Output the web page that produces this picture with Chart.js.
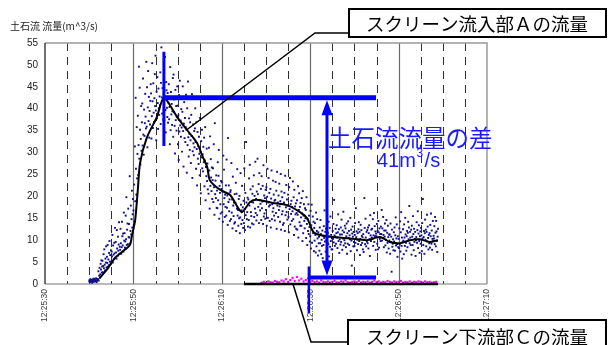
<!DOCTYPE html>
<html>
<head>
<meta charset="utf-8">
<script src="https://cdn.jsdelivr.net/npm/chart.js@4/dist/chart.umd.min.js"></script>
<style>
html, body { margin: 0; padding: 0; background: #fff; }
canvas { display: block; }
</style>
</head>
<body>
<canvas id="c" width="608" height="345"></canvas>
<script>
// Time axis: seconds after 12:25:30
const xTickLabels = ['12:25:30', '12:25:50', '12:26:10', '12:26:30', '12:26:50', '12:27:10'];

// Screen inlet A: measured flow, 12 samples per second from t = 10 s
const aStart = 10.0;
const aStep = 1 / 12;
const aFlow = [
  0.6,0.9,0.4,1.1,0.7,0.5,0.9,0.8,0.3,1.0,0.6,1.2,
  0.5,1.0,0.7,1.2,0.6,0.9,0.8,1.3,0.4,0.7,1.1,0.9,
  1.1,2.9,0.8,1.9,3.7,1.4,2.2,4.6,3.3,5.4,2.6,4.0,
  5.3,2.7,4.1,6.8,3.6,7.9,4.4,3.1,5.8,4.9,8.6,3.8,
  6.2,4.8,8.9,3.9,5.6,4.3,7.1,9.8,5.1,6.6,4.5,7.7,
  5.1,7.4,6.3,11.2,4.9,8.8,6.7,5.7,9.4,7.0,12.8,6.0,
  9.6,7.2,5.8,12.3,8.1,6.4,10.8,7.6,9.0,14.1,6.9,8.5,
  7.8,12.6,9.3,6.9,8.4,14.2,10.9,8.8,11.5,7.4,16.3,9.9,
  11.6,8.3,9.7,15.6,10.2,19.8,8.9,12.4,13.8,9.1,17.2,10.7,
  13.7,10.6,24.6,9.2,12.1,17.9,11.3,14.8,21.3,12.9,15.9,19.4,
  16.8,13.5,22.7,14.2,31.4,18.9,42.5,26.3,20.4,35.8,24.1,29.7,
  38.4,24.9,31.7,49.6,28.6,44.8,35.2,27.3,33.1,40.6,30.4,36.9,
  41.2,31.6,46.9,34.1,29.5,39.8,33.8,36.7,43.4,38.2,35.5,50.7,
  35.9,44.9,31.2,40.3,48.6,37.2,42.7,33.4,39.5,36.4,41.8,45.6,
  43.5,33.2,38.3,50.4,41.7,35.6,45.8,39.1,37.0,42.4,47.9,40.6,
  52.1,39.6,32.8,43.9,37.8,47.2,41.3,35.4,44.6,40.1,38.6,42.8,
  40.8,48.3,36.5,45.9,54.0,42.6,38.9,44.7,41.9,37.5,43.3,50.9,
  37.3,42.9,51.8,39.7,34.6,46.1,44.2,40.2,38.1,43.6,36.8,41.4,
  45.6,37.6,40.4,31.9,49.5,35.1,43.8,38.7,41.1,36.3,39.4,47.0,
  33.6,47.8,39.2,42.1,36.1,29.8,44.3,37.4,40.6,35.0,38.2,45.1,
  40.7,31.9,38.5,28.3,43.1,34.8,46.4,36.2,37.3,33.6,39.9,35.7,
  30.2,39.3,45.1,34.9,26.8,36.6,41.5,33.3,37.9,32.4,35.8,43.2,
  35.2,25.4,40.1,31.7,46.2,33.5,29.1,37.8,34.3,30.6,36.9,32.8,
  27.6,38.6,33.8,43.3,24.2,30.3,36.4,32.1,29.4,34.9,31.2,35.5,
  40.1,32.4,26.3,36.9,30.8,22.5,34.7,28.6,31.5,27.4,33.6,29.7,
  24.8,37.9,30.1,20.7,32.6,28.9,35.2,26.4,29.6,25.7,31.3,27.8,
  33.4,22.3,28.2,35.8,19.1,26.7,24.6,30.9,23.5,27.5,21.6,25.8,
  20.6,31.1,25.9,17.2,33.7,22.4,28.5,24.3,21.2,26.6,19.4,23.7,
  26.4,18.7,31.9,22.1,15.8,36.7,20.5,23.6,19.6,24.8,17.4,21.3,
  17.3,27.8,19.1,24.7,30.6,14.9,22.4,20.8,18.2,16.1,23.5,21.7,
  23.2,16.4,21.1,14.2,29.3,18.2,26.1,19.6,15.3,20.4,17.6,22.5,
  15.6,28.4,17.4,20.2,13.5,33.3,18.7,22.5,16.6,19.3,14.4,21.0,
  21.4,14.8,27.6,16.3,19.3,12.7,24.5,17.9,15.5,18.6,13.8,20.5,
  14.1,18.5,23.1,12.1,20.6,17.2,26.2,15.6,16.9,13.3,19.4,15.0,
  20.1,11.6,15.2,25.3,18.1,13.7,16.8,22.4,14.6,17.5,12.8,19.0,
  13.9,26.4,17.1,12.3,20.8,15.7,32.4,18.6,14.8,16.4,19.7,13.1,
  19.3,14.6,24.1,17.9,27.2,12.9,21.6,16.4,15.5,18.7,13.8,20.6,
  22.3,18.6,13.6,24.8,15.3,20.1,17.2,27.9,16.2,19.4,14.5,21.1,
  15.7,28.6,20.5,17.6,22.8,13.9,25.3,19.1,16.8,18.3,21.7,14.6,
  24.6,17.3,18.8,22.4,13.7,27.1,15.4,20.2,16.1,19.6,14.9,21.5,
  16.9,22.1,13.3,19.9,26.3,15.1,18.6,24.2,17.7,20.8,14.4,18.0,
  21.7,12.9,19.5,25.9,14.8,18.2,16.5,23.6,17.3,20.4,15.6,19.0,
  14.5,19.2,23.3,16.2,21.3,12.6,25.6,17.9,18.6,15.3,20.2,16.9,
  22.9,17.7,14.2,18.9,25.1,12.4,21.1,15.9,19.8,16.6,13.5,18.3,
  13.9,18.6,20.8,12.1,24.7,15.7,17.5,22.6,16.4,19.3,14.7,17.9,
  20.4,15.3,11.8,22.1,17.1,24.2,13.6,18.2,16.0,19.0,14.4,17.6,
  16.6,23.4,14.8,19.8,11.2,21.5,13.1,17.7,15.9,18.4,12.6,16.2,
  19.1,12.4,15.8,22.3,10.6,16.9,20.7,14.1,17.6,13.3,18.5,15.2,
  13.3,19.6,16.1,9.8,21.2,11.6,15.6,18.2,14.4,12.7,17.3,15.0,
  16.9,10.5,19.8,13.7,8.9,14.8,12.1,18.2,11.4,15.6,13.0,9.7,
  10.9,16.7,8.1,13.4,18.1,9.4,12.3,15.4,11.6,14.2,7.5,12.8,
  9.9,13.9,11.2,7.2,16.3,8.6,12.1,14.8,10.4,6.5,11.8,9.3,
  10.8,7.6,12.9,9.3,14.6,11.4,6.8,10.1,8.7,12.2,5.9,11.0,
  8.9,13.2,10.5,16.8,9.7,11.9,7.4,12.6,10.0,8.3,11.4,9.5,
  11.7,9.1,14.2,6.3,10.9,12.8,8.5,15.4,9.8,11.2,7.9,10.4,
  7.9,12.1,10.3,13.7,9.5,19.2,11.1,8.7,10.8,12.6,9.2,11.6,
  13.4,10.6,8.2,11.8,15.9,9.8,12.5,7.1,10.2,11.3,9.0,12.9,
  9.6,14.7,11.3,7.8,12.2,10.4,16.5,8.8,11.8,10.0,13.3,9.3,
  12.7,8.4,10.9,13.8,6.9,11.6,9.2,14.3,10.5,12.1,8.9,11.1,
  10.2,15.1,7.5,12.4,9.9,4.2,11.5,13.1,10.8,8.6,11.9,9.6,
  8.6,11.2,13.9,9.4,17.3,10.7,12.0,7.7,10.1,11.6,9.1,12.5,
  14.1,9.8,11.9,6.6,10.3,13.5,8.9,12.3,11.0,9.4,10.7,7.9,
  11.4,7.3,10.1,19.6,12.8,9.1,14.9,10.6,8.6,11.9,9.7,12.3,
  9.3,12.9,8.1,11.6,13.4,10.2,6.4,15.7,11.1,9.8,12.4,10.6,
  12.6,10.4,14.8,8.7,11.1,16.2,9.6,13.2,10.9,12.0,7.8,11.5,
  10.9,13.7,9.2,12.1,7.9,14.4,11.8,8.3,12.7,10.3,11.4,9.8,
  13.1,11.4,16.9,9.9,12.7,10.5,15.3,11.2,8.4,12.2,10.8,13.8,
  8.8,12.2,10.1,14.6,7.2,11.7,9.4,13.3,10.7,8.1,11.3,9.9,
  11.3,6.9,13.8,9.6,10.8,2.8,12.4,8.5,9.2,10.2,7.7,11.8,
  9.7,12.9,7.6,11.1,15.2,8.8,10.4,13.6,9.1,6.2,10.9,8.4,
  10.3,8.2,12.7,9.1,14.3,7.4,11.8,16.4,8.7,10.6,5.8,9.6,
  12.5,9.9,6.8,13.6,10.6,8.7,15.1,11.3,9.4,7.6,10.9,12.1,
  8.4,11.7,14.2,10.2,12.9,17.8,9.3,11.9,10.6,8.9,12.4,6.7,
  13.3,10.8,8.9,15.5,11.4,7.7,12.6,9.6,10.3,11.9,6.4,10.0,
  10.7,14.1,9.4,12.3,16.6,8.2,11.5,13.4,9.8,7.1,10.9,12.0,
  9.2,12.8,11.1,7.5,13.9,10.4,19.4,8.9,10.7,12.1,6.9,11.6,
  14.7,10.1,12.4,8.6,11.9,15.8,9.7,13.1,10.5,7.9,11.2,9.3,
  11.6,8.3,13.5,10.9,16.1,9.2,12.2,7.8,10.3,14.4,9.8,11.0,
  10.4,13.2,9.1,15.3,11.7,8.6,14.4,12.0,9.9,7.3,10.8,12.6
];

// Screen inlet A: running mean
const aMeanTime = [12.4,14.3,15.8,17.4,19.2,19.7,20.4,21.0,21.5,23.0,25.3,26.9,29.9,32.1,34.4,35.7,36.7,37.3,39.6,41.9,44.5,46.4,47.9,51.6,54.7,57.7,59.3,60.7,62.2,65.2,69.0,72.8,75.8,78.0,80.3,82.6,84.8,87.1,88.9];
const aMeanFlow = [1.4,3.7,5.9,7.3,8.9,11.2,14.6,21.5,27.6,33.3,38.1,42.5,38.1,35.2,32.2,29.0,26.7,23.7,21.5,20.3,16.4,18.7,19.2,18.5,18.0,16.4,15.0,11.9,11.2,10.7,10.4,10.0,10.7,9.6,9.3,10.0,10.2,9.6,10.0];

// Screen downstream C: measured flow, sampled every 0.5 s from t = 49 s
const cStart = 49.0;
const cStep = 0.5;
const cFlow = [
  0.3,0.5,0.2,0.6,0.4,0.3,0.7,0.5,
  0.4,0.8,0.6,1.1,0.5,0.9,1.4,0.7,
  1.6,0.8,1.2,0.6,0.9,1.3,0.5,0.7,
  0.4,0.6,0.3,0.8,0.5,0.4,0.6,0.3,
  0.5,0.7,0.4,0.3,0.6,0.5,0.8,0.4,
  0.3,0.5,0.6,0.4,0.7,0.3,0.5,0.4,
  0.6,0.3,0.5,0.8,0.4,0.6,0.3,0.5,
  0.4,0.7,0.5,0.3,0.6,0.4,0.5,0.7,
  0.3,0.5,0.4,0.6,0.3,0.5,0.4,0.6,
  0.5,0.3,0.6,0.4,0.5,0.3,0.4,0.5
];

// Screen downstream C: running mean
const cMeanTime = [45.0, 55.0, 65.0, 75.0, 88.9];
const cMeanFlow = [0.0, 0.0, 0.0, 0.0, 0.0];

// Peak flows compared by the arrow
const peakATime = 26.9, peakAFlow = 42.5;
const peakCTime = 59.7, peakCFlow = 1.5;

const aPoints = aFlow.map((v, i) => ({ x: aStart + i * aStep, y: v }));
const aMean = aMeanTime.map((t, i) => ({ x: t, y: aMeanFlow[i] }));
const cPoints = cFlow.map((v, i) => ({ x: cStart + i * cStep, y: v }));
const cMean = cMeanTime.map((t, i) => ({ x: t, y: cMeanFlow[i] }));

const CJK = '"Noto Sans CJK JP", "Noto Sans CJK SC", sans-serif';

const deco = {
  id: 'deco',
  beforeDatasetsDraw(chart) {
    const { ctx, chartArea: a, scales: { x: xs } } = chart;
    ctx.save();
    // vertical grid: dashed every 5 s, solid every 20 s
    xs.ticks.forEach(tk => {
      const t = tk.value;
      if (t <= xs.min || t >= xs.max) return;
      const px = Math.round(xs.getPixelForValue(t)) + 0.5;
      ctx.beginPath();
      if (t % 20 === 0) {
        ctx.setLineDash([]);
        ctx.strokeStyle = '#6a6a6a';
        ctx.lineWidth = 1.2;
      } else {
        ctx.setLineDash([8, 6]);
        ctx.strokeStyle = '#303030';
        ctx.lineWidth = 1;
      }
      ctx.moveTo(px, a.top);
      ctx.lineTo(px, a.bottom);
      ctx.stroke();
    });
    ctx.setLineDash([]);
    // plot frame
    ctx.strokeStyle = '#9a9a9a';
    ctx.lineWidth = 1.5;
    ctx.beginPath();
    ctx.moveTo(a.left, a.top);
    ctx.lineTo(a.right, a.top);
    ctx.lineTo(a.right, a.bottom);
    ctx.stroke();
    ctx.strokeStyle = '#777';
    ctx.lineWidth = 1.2;
    ctx.beginPath();
    ctx.moveTo(a.left, a.bottom);
    ctx.lineTo(a.right, a.bottom);
    ctx.stroke();
    ctx.strokeStyle = '#111';
    ctx.lineWidth = 1.2;
    ctx.beginPath();
    ctx.moveTo(a.left, a.top);
    ctx.lineTo(a.left, a.bottom);
    ctx.stroke();
    ctx.restore();
  },
  afterDatasetsDraw(chart) {
    const { ctx, scales: { x: xs, y: ys } } = chart;
    const X = v => xs.getPixelForValue(v);
    const Y = v => ys.getPixelForValue(v);
    const seg = (x1, y1, x2, y2, w) => {
      ctx.lineWidth = w;
      ctx.beginPath();
      ctx.moveTo(x1, y1);
      ctx.lineTo(x2, y2);
      ctx.stroke();
    };
    ctx.save();
    ctx.strokeStyle = '#0000ff';
    ctx.fillStyle = '#0000ff';
    ctx.lineCap = 'butt';
    const levelEnd = 74.9;
    // marker at A's peak
    seg(X(peakATime), Y(53), X(peakATime), Y(31.5), 3);
    seg(X(peakATime), Y(peakAFlow), X(levelEnd), Y(peakAFlow), 5);
    // marker at C's peak
    seg(X(peakCTime), Y(peakCFlow), X(levelEnd), Y(peakCFlow), 4);
    seg(X(peakCTime), Y(4), X(peakCTime), Y(0) + 29, 2.5);
    // double-headed arrow between the two levels
    const ax = X(63.8);
    const yTop = Y(peakAFlow) + 2.5;
    const yBot = Y(peakCFlow) - 2;
    const headL = 15, headW = 5.5;
    seg(ax, yTop + headL - 1, ax, yBot - headL + 1, 3);
    ctx.beginPath();
    ctx.moveTo(ax, yTop);
    ctx.lineTo(ax - headW, yTop + headL);
    ctx.lineTo(ax + headW, yTop + headL);
    ctx.closePath();
    ctx.fill();
    ctx.beginPath();
    ctx.moveTo(ax, yBot);
    ctx.lineTo(ax - headW, yBot - headL);
    ctx.lineTo(ax + headW, yBot - headL);
    ctx.closePath();
    ctx.fill();
    // difference label
    ctx.fillStyle = '#1a1aff';
    ctx.textBaseline = 'middle';
    ctx.textAlign = 'left';
    ctx.font = '23.5px ' + CJK;
    ctx.fillText('土石流流量の差', 328, 138);
    const diff = String(Math.round(peakAFlow - peakCFlow));
    ctx.font = '20px "Liberation Sans", Arial, sans-serif';
    let tx = 377;
    ctx.fillText(diff + 'm', tx, 161);
    tx += ctx.measureText(diff + 'm').width + 0.5;
    ctx.font = '12px "Liberation Sans", Arial, sans-serif';
    ctx.fillText('3', tx, 154);
    tx += ctx.measureText('3').width + 1.5;
    ctx.font = '20px "Liberation Sans", Arial, sans-serif';
    ctx.fillText('/s', tx, 161);
    ctx.restore();
  },
  afterDraw(chart) {
    const { ctx, scales: { x: xs, y: ys } } = chart;
    const X = v => xs.getPixelForValue(v);
    const Y = v => ys.getPixelForValue(v);
    ctx.save();
    // axis title
    ctx.fillStyle = '#222';
    ctx.font = '10px ' + CJK;
    ctx.textBaseline = 'middle';
    ctx.textAlign = 'left';
    ctx.fillText('土石流 流量(m^3/s)', 10, 26);

    // callout for inlet A
    ctx.strokeStyle = '#000';
    ctx.lineWidth = 1.5;
    ctx.beginPath();
    ctx.moveTo(X(32.1), Y(35.2));
    ctx.lineTo(315, 33);
    ctx.lineTo(349, 33);
    ctx.stroke();
    ctx.fillStyle = '#fff';
    ctx.fillRect(349, 9, 257, 28);
    ctx.lineWidth = 2;
    ctx.strokeRect(349, 9, 257, 28);
    ctx.fillStyle = '#000';
    ctx.font = '18.5px ' + CJK;
    ctx.fillText('スクリーン流入部Ａの流量', 366, 23.5);

    // callout for downstream C
    ctx.lineWidth = 1.5;
    ctx.beginPath();
    ctx.moveTo(X(56.1), Y(0));
    ctx.lineTo(311, 342);
    ctx.lineTo(348, 342);
    ctx.stroke();
    ctx.fillStyle = '#fff';
    ctx.fillRect(348, 320, 258, 40);
    ctx.lineWidth = 2;
    ctx.strokeRect(348, 320, 258, 40);
    ctx.fillStyle = '#000';
    ctx.font = '18.5px ' + CJK;
    ctx.fillText('スクリーン下流部Ｃの流量', 366, 337);
    ctx.restore();
  }
};

new Chart(document.getElementById('c'), {
  type: 'scatter',
  data: {
    datasets: [
      { label: 'A mean', data: aMean, showLine: true, borderColor: '#000', borderWidth: 2,
        pointRadius: 0, tension: 0.25, fill: false },
      { label: 'C mean', data: cMean, showLine: true, borderColor: '#000', borderWidth: 2.4,
        pointRadius: 0, fill: false, clip: false },
      { label: 'C', data: cPoints, pointStyle: 'rect', pointRadius: 1.5,
        backgroundColor: '#ff00ff', borderWidth: 0 },
      { label: 'A', data: aPoints, pointStyle: 'rect', pointRadius: 1.35,
        backgroundColor: '#10108a', borderWidth: 0 }
    ]
  },
  options: {
    responsive: false,
    animation: false,
    events: [],
    layout: { padding: { left: 0, top: 43, right: 121, bottom: 0 } },
    plugins: { legend: { display: false }, tooltip: { enabled: false }, title: { display: false } },
    scales: {
      x: {
        type: 'linear', min: 0, max: 100,
        grid: { display: false, drawTicks: false },
        border: { display: false },
        afterFit(s) { s.height = 61; },
        ticks: {
          stepSize: 5, autoSkip: false, maxRotation: 90, minRotation: 90, padding: 5,
          color: '#3a3a3a',
          font: { family: '"Liberation Sans Narrow", "Liberation Sans", Arial, sans-serif', size: 8.5 },
          callback: v => (v % 20 === 0 ? xTickLabels[v / 20] : '')
        }
      },
      y: {
        min: 0, max: 55,
        grid: { display: false, drawTicks: false },
        border: { display: false },
        afterFit(s) { s.width = 45; },
        ticks: {
          stepSize: 5, padding: 7, color: '#222',
          font: { family: '"Liberation Sans", Arial, sans-serif', size: 10 }
        }
      }
    }
  },
  plugins: [deco]
});
</script>
</body>
</html>
